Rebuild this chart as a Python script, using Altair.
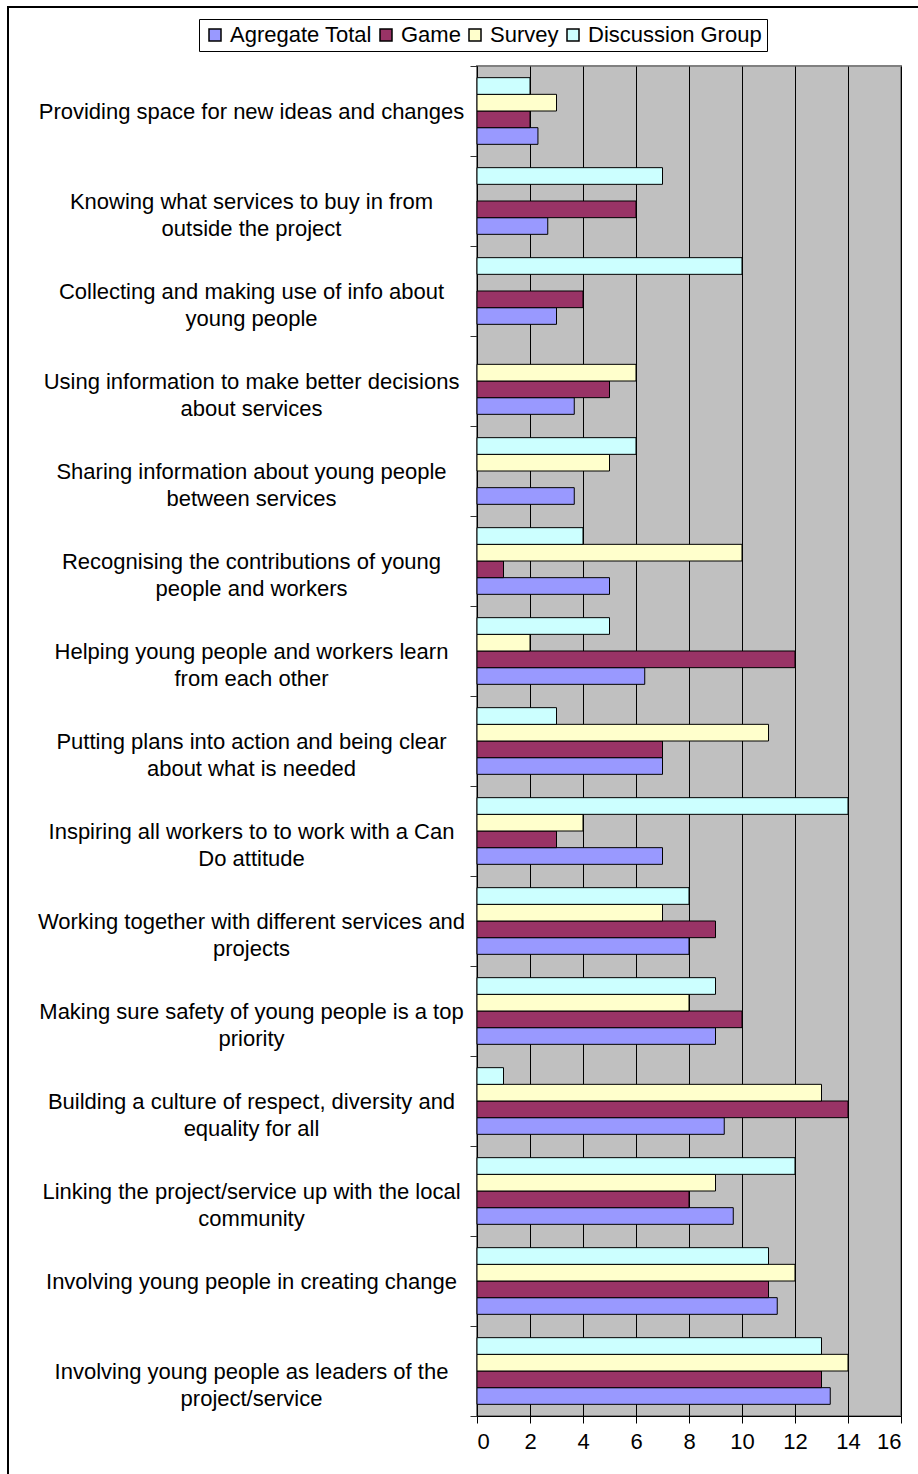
import altair as alt
import pandas as pd

categories = [
    ["Providing space for new ideas and changes"],
    ["Knowing what services to buy in from", "outside the project"],
    ["Collecting and making use of info about", "young people"],
    ["Using information to make better decisions", "about services"],
    ["Sharing information about young people", "between services"],
    ["Recognising the contributions of young", "people and workers"],
    ["Helping young people and workers learn", "from each other"],
    ["Putting plans into action and being clear", "about what is needed"],
    ["Inspiring all workers to to work with a Can", "Do attitude"],
    ["Working together with different services and", "projects"],
    ["Making sure safety of young people is a top", "priority"],
    ["Building a culture of respect, diversity and", "equality for all"],
    ["Linking the project/service up with the local", "community"],
    ["Involving young people in creating change"],
    ["Involving young people as leaders of the", "project/service"],
]

series_names = ["Agregate Total", "Game", "Survey", "Discussion Group"]
agregate_total = [2.3, 2.67, 3, 3.67, 3.67, 5, 6.33, 7, 7, 8, 9, 9.33, 9.67, 11.33, 13.33]
game = [2, 6, 4, 5, 0, 1, 12, 7, 3, 9, 10, 14, 8, 11, 13]
survey = [3, 0, 0, 6, 5, 10, 2, 11, 4, 7, 8, 13, 9, 12, 14]
discussion_group = [2, 7, 10, 0, 6, 4, 5, 3, 14, 8, 9, 1, 12, 11, 13]
colors = ["#9999FF", "#993366", "#FFFFCC", "#CCFFFF"]
x_ticks = [0, 2, 4, 6, 8, 10, 12, 14, 16]

cat_keys = [" ".join(c) for c in categories]
label_map = {k: c for k, c in zip(cat_keys, categories)}

rows = []
for name, vals in zip(series_names, [agregate_total, game, survey, discussion_group]):
    for k, v in zip(cat_keys, vals):
        rows.append({"category": k, "series": name, "value": v})
df = pd.DataFrame(rows)

label_expr = "{" + ",".join(
    '"{}": [{}]'.format(k, ",".join('"{}"'.format(s) for s in label_map[k])) for k in cat_keys
) + "}[datum.value]"

FONT = "Liberation Sans"

bars = alt.Chart(df).transform_filter("datum.value > 0").mark_bar(
    stroke="black", strokeWidth=1
).encode(
    x=alt.X("value:Q",
            scale=alt.Scale(domain=[0, 16], nice=False),
            axis=alt.Axis(values=x_ticks, title=None, grid=True, gridColor="black",
                          gridWidth=1, tickColor="black", tickSize=7, domainColor="black",
                          labelFontSize=22, labelColor="black", labelPadding=8,
                          labelFont=FONT)),
    y=alt.Y("category:N", sort=cat_keys,
            scale=alt.Scale(paddingInner=0, paddingOuter=0),
            axis=alt.Axis(title=None, labelExpr=label_expr, labelAlign="center",
                          labelBaseline="middle", labelPadding=219, labelFontSize=22,
                          labelLineHeight=27, labelLimit=1000, labelColor="black",
                          labelFont=FONT, tickBand="extent", tickSize=7,
                          tickColor="#333333", domainColor="black")),
    yOffset=alt.YOffset("series:N",
                        sort=["Discussion Group", "Survey", "Game", "Agregate Total"],
                        scale=alt.Scale(paddingInner=0, paddingOuter=0.7)),
    color=alt.Color("series:N",
                    scale=alt.Scale(domain=series_names, range=colors),
                    legend=alt.Legend(title=None, orient="none", legendX=-278, legendY=-47,
                                      direction="horizontal", strokeColor="black",
                                      fillColor="white", padding=5, labelFontSize=22,
                                      labelFont=FONT, labelColor="black", labelLimit=400,
                                      symbolType="square", symbolSize=144,
                                      symbolStrokeColor="black", symbolStrokeWidth=1.5,
                                      columnPadding=3, labelOffset=4)),
)

frame = alt.Chart(pd.DataFrame({"a": [0]})).mark_rect(
    fill=None, stroke="black", strokeWidth=2
).encode(
    x=alt.value(-469), x2=alt.value(470),
    y=alt.value(-59), y2=alt.value(1430),
)

chart = alt.layer(bars, frame).properties(
    width=424, height=1350,
    autosize=alt.AutoSizeParams(type="none"),
    padding={"left": 477, "top": 66, "right": 17, "bottom": 58},
    background="white",
).configure_view(
    fill="#C0C0C0", stroke="#808080", strokeWidth=2
)

chart.save("out.html", embed_options={"renderer": "svg", "actions": False})
